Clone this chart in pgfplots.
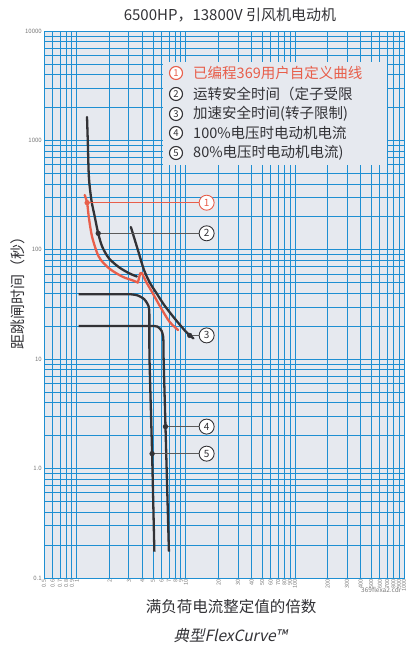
\documentclass[border=0pt]{standalone}
\usepackage{fontspec}
\setmainfont{Noto Sans CJK SC}
\newfontfamily\cjkit[FakeSlant=0.22]{Noto Sans CJK SC}
\usepackage{pgfplots}
\pgfplotsset{compat=1.18}

\definecolor{gridblue}{RGB}{30,143,210}
\definecolor{panel}{RGB}{230,233,239}
\definecolor{ink}{RGB}{50,50,54}
\definecolor{lead}{RGB}{90,90,90}
\definecolor{curvered}{RGB}{232,94,74}
\definecolor{ticktext}{RGB}{120,120,120}

\tikzset{
  callout/.style={circle,draw=ink,fill=white,line width=0.9pt,minimum size=15pt,
    inner sep=0pt,font=\fontsize{10}{10}\selectfont,text=ink},
  legnum/.style={circle,draw=ink,fill=white,line width=1.1pt,minimum size=13pt,
    inner sep=0pt,font=\fontsize{9.5}{10}\selectfont,text=ink},
}

\begin{document}
\begin{tikzpicture}[x=1pt,y=1pt]
\begin{axis}[
  at={(44pt,72pt)}, anchor=south west,
  scale only axis, width=360pt, height=547pt,
  xmode=log, ymode=log,
  xmin=0.5, xmax=1000, ymin=0.1, ymax=10000,
  axis background/.style={fill=panel},
  axis line style={gridblue,line width=0.8pt},
  xtick={0.5,0.6,0.7,0.8,0.9,1,2,3,4,5,6,7,8,9,10,20,30,40,50,60,70,80,90,100,200,300,400,500,600,700,800,900,1000},
  xticklabels={0.5,0.6,0.7,0.8,0.9,1,2,3,4,5,6,7,8,9,10,20,30,40,50,60,70,80,90,100,200,300,400,500,600,700,800,900,1000},
  ytick={0.1,1,10,100,1000,10000},
  yticklabels={0.1,1.0,10,100,1000,10000},
  minor ytick={0.2,0.3,0.4,0.5,0.6,0.7,0.8,0.9,2,3,4,5,6,7,8,9,20,30,40,50,60,70,80,90,200,300,400,500,600,700,800,900,2000,3000,4000,5000,6000,7000,8000,9000},
  grid=both,
  major grid style={gridblue,line width=0.8pt},
  minor grid style={gridblue,line width=0.8pt},
  major tick length=0pt, minor tick length=0pt,
  xticklabel style={rotate=90,anchor=east,inner sep=1.5pt,
    font=\fontsize{5.5}{5.5}\selectfont,text=ticktext},
  yticklabel style={inner sep=2pt,font=\fontsize{6}{6}\selectfont,text=ticktext},
  /pgf/number format/assume math mode=true,
]
% (2) running safe time, stator limited
\addplot[ink,line width=2.3pt,smooth,tension=0.5,line cap=round] coordinates {
  (1.24,1636) (1.26,987) (1.29,463) (1.36,285) (1.46,200.7) (1.57,141.5)
  (1.71,106.7) (1.97,83.6) (2.44,69.2) (3.02,61.0) (3.55,57.0)};
% (3) acceleration safe time, rotor limited
\addplot[ink,line width=2.3pt,smooth,tension=0.5,line cap=round] coordinates {
  (3.13,161.6) (3.63,99.6) (4.13,65.4) (4.69,49.7) (5.33,40.7) (6.32,31.3)
  (7.82,23.8) (9.68,18.5) (10.84,16.5) (11.73,15.5)};
% (5) 80% voltage motor current
\addplot[ink,line width=2.3pt,smooth,tension=0.4] coordinates {
  (1.04,39.2) (2.0,39.2) (3.13,39.2) (3.63,38.2) (4.13,35.5) (4.45,32) (4.62,27)
  (4.64,10) (4.9,1.37) (5.14,0.174)};
% (4) 100% voltage motor current
\addplot[ink,line width=2.3pt,smooth,tension=0.4] coordinates {
  (1.04,20.1) (3.0,20.1) (5.14,20.1) (5.62,19.5) (6.0,18.1) (6.19,16.0) (6.23,13.8)
  (6.25,10) (6.5,2.42) (6.99,0.174)};
% (1) programmed user curve
\addplot[curvered,line width=2.3pt,smooth,tension=0.5,line cap=round,line join=round] coordinates {
  (1.18,316.9) (1.243,269.5) (1.286,200.7) (1.38,131.7) (1.59,86.5) (1.97,67.8)
  (2.62,56.8) (3.27,52.4) (3.63,50.2)};
\addplot[curvered,line width=2.3pt,line join=round,line cap=round] coordinates {
  (3.63,50.2) (3.81,61.0) (3.95,61.4) (4.31,51.1)};
\addplot[curvered,line width=2.3pt,smooth,tension=0.5,line cap=round] coordinates {
  (4.31,51.1) (4.97,40.0) (5.93,29.2) (7.08,22.0) (8.47,18.5)};

% leader lines
\addplot[curvered,line width=1pt] coordinates {(1.243,269.5) (13.2,269.5)};
\addplot[lead,line width=1pt] coordinates {(1.57,141.5) (13.2,141.5)};
\addplot[lead,line width=1pt] coordinates {(10.84,16.5) (13.2,16.5)};
\addplot[lead,line width=1pt] coordinates {(6.5,2.42) (13.2,2.42)};
\addplot[lead,line width=1pt] coordinates {(4.9,1.37) (13.2,1.37)};
% markers
\addplot[only marks,mark=*,mark size=2.4pt,curvered] coordinates {(1.243,269.5)};
\addplot[only marks,mark=*,mark size=2.4pt,ink] coordinates {
  (1.57,141.5) (10.84,16.5) (6.5,2.42) (4.9,1.37)};

\node[callout,draw=curvered,text=curvered] at (axis cs:15.5,269.5) {1};
\node[callout] at (axis cs:15.5,141.5) {2};
\node[callout] at (axis cs:15.5,16.5) {3};
\node[callout] at (axis cs:15.5,2.42) {4};
\node[callout] at (axis cs:15.5,1.37) {5};
\end{axis}

% legend panel
\fill[panel] (163,485) rectangle (387,588);
\node[legnum,draw=curvered,text=curvered] at (176,577) {1};
\node[legnum] at (176,556) {2};
\node[legnum] at (176,536) {3};
\node[legnum] at (176,517) {4};
\node[legnum] at (176,497) {5};
\begin{scope}[every node/.style={anchor=west,inner sep=0pt,font=\fontsize{14.5}{14.5}\selectfont,text=ink}]
\node[text=curvered] at (193,577) {已编程369用户自定义曲线};
\node at (193,556) {运转安全时间（定子受限};
\node at (193,536) {加速安全时间(转子限制)};
\node at (193,517) {100\%电压时电动机电流};
\node at (193,497) {80\%电压时电动机电流)};
\end{scope}

% titles
\node[font=\fontsize{15}{15}\selectfont,text=ink] at (230,635) {6500HP，13800V 引风机电动机};
\node[font=\fontsize{15.5}{16}\selectfont,text=ink] at (231,43) {满负荷电流整定值的倍数};
\node[rotate=90,font=\fontsize{15}{15}\selectfont,text=ink] at (18,360) {距跳闸时间（秒）};
\node[font=\cjkit\fontsize{15.5}{16}\selectfont,text=ink] at (230,14) {典型FlexCurve™};
\node[anchor=west,inner sep=0pt,font=\fontsize{6.5}{7}\selectfont,text=ticktext] at (361,60) {369flexa2.cdr};

\pgfresetboundingbox
\useasboundingbox (0,0) rectangle (406,650);
\end{tikzpicture}
\end{document}
